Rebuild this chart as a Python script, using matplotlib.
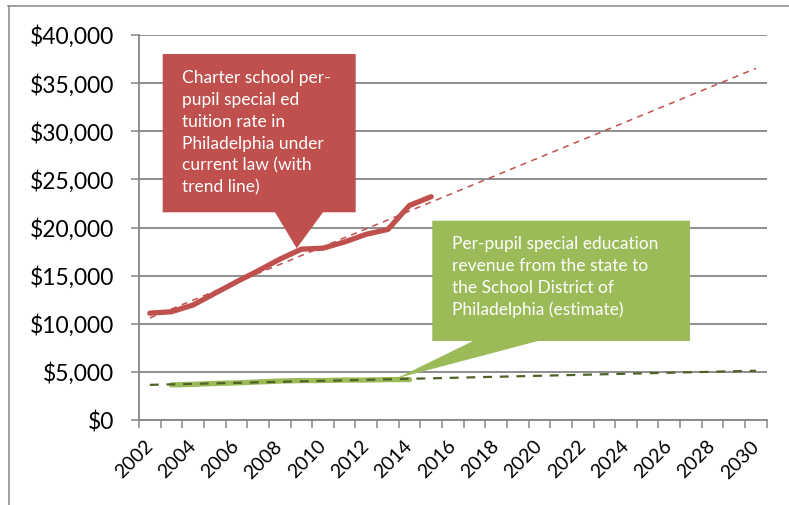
import numpy as np
import matplotlib.pyplot as plt
from matplotlib.patches import Polygon
from matplotlib.lines import Line2D
import matplotlib.ticker as mticker

# ---- data ----
years = list(range(2002, 2031))
charter_years = list(range(2002, 2016))
charter_rate = [11100, 11250, 11950, 13150, 14350, 15500, 16700, 17750,
                17850, 18500, 19300, 19800, 22300, 23200]
state_years = list(range(2003, 2015))
state_revenue = [3650, 3700, 3800, 3850, 3950, 4050, 4100, 4100,
                 4150, 4150, 4200, 4200]
y_ticks = [0, 5000, 10000, 15000, 20000, 25000, 30000, 35000, 40000]
x_label_years = years[::2]
red_label = ("Charter school per-\npupil special ed\ntuition rate in\n"
             "Philadelphia under\ncurrent law (with\ntrend line)")
green_label = ("Per-pupil special education\nrevenue from the state to\n"
               "the School District of\nPhiladelphia (estimate)")

RED = '#C0504D'
GREEN = '#9BBB59'
DKGREEN = '#4F6228'
GRAY = '#868686'

plt.rcParams['font.family'] = ['Lato', 'DejaVu Sans']

W, H = 789, 505
fig = plt.figure(figsize=(W / 100, H / 100), dpi=100)
ax = fig.add_axes([139 / W, 1 - 420 / H, (766.7 - 139) / W, 385 / H])

def idx(yrs):
    return np.array([years.index(y) for y in yrs], dtype=float)

xc = idx(charter_years)
xs = idx(state_years)
xall = idx(years)

# trend lines (linear fits)
pc = np.polyfit(xc, charter_rate, 1)
ps = np.polyfit(xs, state_revenue, 1)

ax.plot(xc, charter_rate, color=RED, lw=3.8, solid_joinstyle='round',
        solid_capstyle='round', zorder=3)
ax.plot(xs, state_revenue, color=GREEN, lw=3.8, solid_joinstyle='round',
        solid_capstyle='round', zorder=3)
ax.plot(xall, np.polyval(pc, xall), color=RED, lw=1.1, ls=(0, (4, 3.5)), zorder=4)
ax.plot(xall, np.polyval(ps, xall), color=DKGREEN, lw=1.6, ls=(0, (4, 3.5)), zorder=4)

ax.set_xlim(-0.5, len(years) - 0.5)
ax.set_ylim(0, 40000)
ax.set_yticks(y_ticks)
ax.yaxis.set_major_formatter(mticker.FuncFormatter(lambda v, p: f"${v:,.0f}"))
ax.grid(axis='y', color=GRAY, lw=1.3)
ax.set_axisbelow(True)

ax.set_xticks(idx(x_label_years))
ax.set_xticklabels([str(y) for y in x_label_years], rotation=45, ha='right',
                   va='center', rotation_mode='anchor', fontsize=14)
ax.set_xticks(np.arange(-0.5, len(years), 1.0), minor=True)
ax.tick_params(axis='x', which='major', length=0, pad=17)
ax.tick_params(axis='x', which='minor', length=5.5, width=1.1, color=GRAY)
ax.tick_params(axis='y', length=6, width=1.1, color=GRAY, pad=12, labelsize=16.5)

for s in ['top', 'right']:
    ax.spines[s].set_visible(False)
for s in ['left', 'bottom']:
    ax.spines[s].set_color(GRAY)
    ax.spines[s].set_linewidth(1.3)

def px(x, y):
    return (x / W, 1 - y / H)

red_poly = [px(162.7, 54), px(355.7, 54), px(355.7, 212.3), px(323, 212.3),
            px(296.7, 248.3), px(275, 212.3), px(162.7, 212.3)]
green_poly = [px(432.3, 220.7), px(690, 220.7), px(690, 341), px(538, 341),
              px(396.7, 378.3), px(473, 341), px(432.3, 341)]
fig.add_artist(Polygon(red_poly, closed=True, transform=fig.transFigure,
                       facecolor=RED, edgecolor='none', zorder=5))
fig.add_artist(Polygon(green_poly, closed=True, transform=fig.transFigure,
                       facecolor=GREEN, edgecolor='none', zorder=5))

fig.text(*px(182.3, 133), red_label, color='white', fontsize=12.5,
         ha='left', va='center', linespacing=1.45, zorder=6)
fig.text(*px(451.7, 277), green_label, color='white', fontsize=12.5,
         ha='left', va='center', linespacing=1.45, zorder=6)

# outer chart border
fig.add_artist(Line2D([8.5 / W, 8.5 / W], [0, 1 - 6 / H], color=GRAY, lw=1.1,
                      transform=fig.transFigure))
fig.add_artist(Line2D([8 / W, 1], [1 - 6 / H, 1 - 6 / H], color=GRAY, lw=1.1,
                      transform=fig.transFigure))

fig.savefig('out.png', dpi=100)
